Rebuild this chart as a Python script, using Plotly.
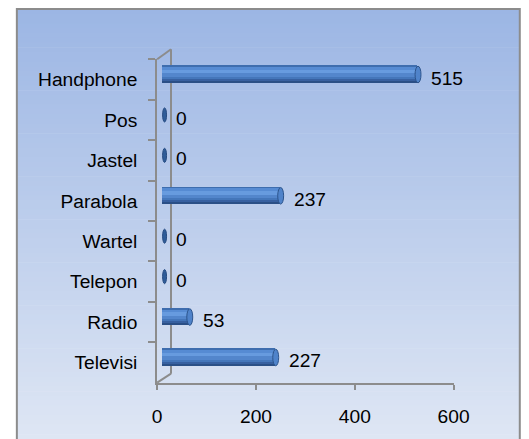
import plotly.graph_objects as go

# ---- data ----
categories = ["Handphone", "Pos", "Jastel", "Parabola", "Wartel", "Telepon", "Radio", "Televisi"]
values = [515, 0, 0, 237, 0, 0, 53, 227]
x_ticks = [0, 200, 400, 600]

SX = 1 / 0.973                  # horizontal compensation for the capture
W, H = int(round(529 * SX)), 439
FONT = "Liberation Sans"
FS = 19.2

def px_x(p):
    return p * SX / W

def px_y(p):
    return 1 - p / H

# plot area in target pixels
X0, X1 = 154, 454
Y0, Y1 = 59.3, 382.7
upp = (X1 - X0) / 600.0          # target pixels per unit
band = (Y1 - Y0) / len(categories)

shift_x = 5.5 / upp               # depth offset of bars (3D look)
shift_y = 5 / band

fig = go.Figure()

# invisible trace anchoring the main axes
fig.add_trace(go.Scatter(x=values, y=categories, mode="markers",
                         marker=dict(opacity=0, size=1),
                         hoverinfo="skip", showlegend=False))

# cylinder-like bars made of stacked bands
T = 0.41
layers = [
    (0.00, 0.07, "#3E6DAE"),
    (0.07, 0.22, "#568BD3"),
    (0.22, 0.45, "#679BDF"),
    (0.45, 0.64, "#5386CC"),
    (0.64, 0.80, "#4476BA"),
    (0.80, 0.92, "#3760A0"),
    (0.92, 1.00, "#2A4F86"),
]
for a, b, col in layers:
    fig.add_trace(go.Bar(
        x=values, y=categories, orientation="h",
        xaxis="x2", yaxis="y2",
        width=(b - a) * T, offset=-T / 2 + a * T,
        marker=dict(color=col, line=dict(width=0)),
        hoverinfo="skip", showlegend=False,
    ))

shapes = []
# gradient background
N = 90
top_c = (156, 182, 228)
bot_c = (222, 230, 244)
ytop, ybot = 9, H
for k in range(N):
    t = k / (N - 1)
    c = tuple(int(round(top_c[j] + (bot_c[j] - top_c[j]) * t)) for j in range(3))
    ya = ytop + (ybot - ytop) * k / N
    yb = ytop + (ybot - ytop) * (k + 1) / N + 0.6
    shapes.append(dict(type="rect", xref="paper", yref="paper", layer="below",
                       x0=px_x(12), x1=px_x(521), y0=px_y(yb), y1=px_y(ya),
                       fillcolor="rgb(%d,%d,%d)" % c, line=dict(width=0)))
# outer border
shapes.append(dict(type="rect", xref="paper", yref="paper", layer="below",
                   x0=px_x(12), x1=px_x(521), y0=px_y(H + 5), y1=px_y(9),
                   line=dict(color="#8C8C8C", width=2), fillcolor="rgba(0,0,0,0)"))
# 3D wall lines
dx = 14 / (X1 - X0)
dyt = 10 / (Y1 - Y0)
dyb = 9 / (Y1 - Y0)
wall = dict(color="#8C8C8C", width=2)
shapes.append(dict(type="line", xref="x domain", yref="y domain", layer="below",
                   x0=0, y0=1, x1=dx, y1=1 + dyt, line=wall))
shapes.append(dict(type="line", xref="x domain", yref="y domain", layer="below",
                   x0=dx, y0=dyb, x1=dx, y1=1 + dyt, line=wall))
shapes.append(dict(type="line", xref="x domain", yref="y domain", layer="below",
                   x0=0, y0=0, x1=dx, y1=dyb, line=wall))

# end caps
cap = 4 / upp
for i, v in enumerate(values):
    if v == 0:
        fill, edge, h = "#2F5C98", "#284C82", T * 0.85
        x0, x1 = v, v + cap
    else:
        fill, edge, h = "#4F83CA", "#2C548C", T
        x0, x1 = v - cap / 2, v + cap
    shapes.append(dict(type="circle", xref="x2", yref="y2", layer="above",
                       x0=x0, x1=x1, y0=i - h / 2, y1=i + h / 2,
                       fillcolor=fill, line=dict(color=edge, width=1)))

annotations = []
for i, (c, v) in enumerate(zip(categories, values)):
    annotations.append(dict(x=v, y=c, xref="x2", yref="y", text=str(v),
                            showarrow=False, xanchor="left", yanchor="middle",
                            xshift=11.5 * SX, yshift=1.5,
                            font=dict(family=FONT, size=FS, color="#000000")))

axis_line = "#8C8C8C"
fig.update_layout(
    width=W, height=H, autosize=False,
    margin=dict(l=0, r=0, t=0, b=0),
    paper_bgcolor="#FFFFFF",
    plot_bgcolor="rgba(0,0,0,0)",
    barmode="overlay",
    bargap=0,
    showlegend=False,
    font=dict(family=FONT, size=FS, color="#000000"),
    xaxis=dict(
        domain=[px_x(X0), px_x(X1)], range=[0, 600],
        tickvals=x_ticks, ticktext=[str(t) for t in x_ticks],
        showline=True, linecolor=axis_line, linewidth=2,
        ticks="outside", ticklen=5, tickwidth=2, tickcolor=axis_line,
        showgrid=False, zeroline=False, ticklabelstandoff=10,
        tickfont=dict(family=FONT, size=FS, color="#000000"),
        fixedrange=True,
    ),
    yaxis=dict(
        domain=[px_y(Y1), px_y(Y0)], type="category",
        categoryorder="array", categoryarray=categories,
        range=[len(categories) - 0.5, -0.5],
        showline=True, linecolor=axis_line, linewidth=2,
        ticks="outside", ticklen=7, tickwidth=2, tickcolor=axis_line,
        tickson="boundaries", showgrid=False, zeroline=False,
        ticklabelstandoff=14,
        tickfont=dict(family=FONT, size=FS, color="#000000"),
        fixedrange=True,
    ),
    xaxis2=dict(
        overlaying="x", domain=[px_x(X0), px_x(X1)],
        range=[-shift_x, 600 - shift_x], visible=False, fixedrange=True,
    ),
    yaxis2=dict(
        overlaying="y", domain=[px_y(Y1), px_y(Y0)], type="category",
        categoryorder="array", categoryarray=categories,
        range=[len(categories) - 0.5 + shift_y, -0.5 + shift_y],
        visible=False, fixedrange=True,
    ),
    shapes=shapes,
    annotations=annotations,
)

fig.write_html(
    "out.html",
    config={"responsive": False, "displayModeBar": False},
    post_script="document.body.style.margin='0';document.body.style.overflow='hidden';",
)
